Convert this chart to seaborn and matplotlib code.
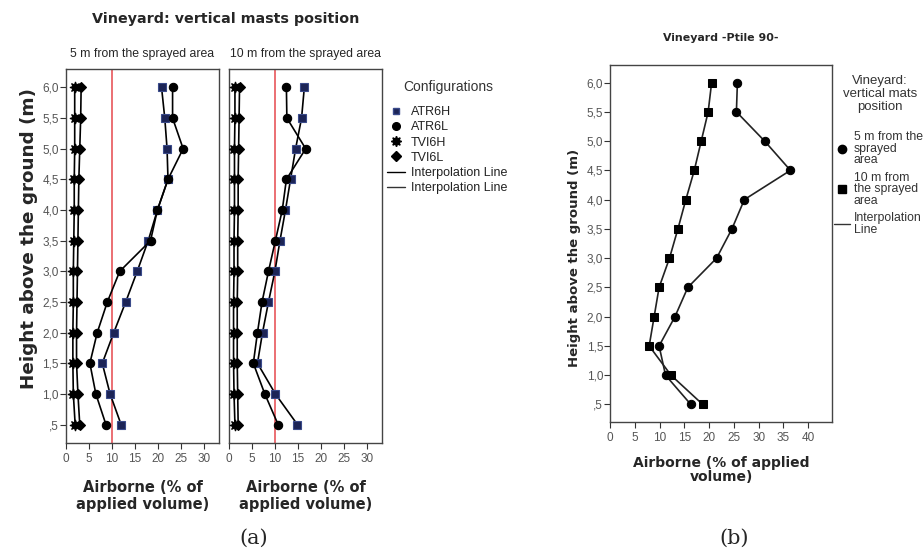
import matplotlib
matplotlib.use("Agg")
import matplotlib.pyplot as plt
from matplotlib.lines import Line2D
import numpy as np
import pandas as pd
import seaborn as sns

# heights of the sampling points (bottom to top)
heights = [0.5, 1.0, 1.5, 2.0, 2.5, 3.0, 3.5, 4.0, 4.5, 5.0, 5.5, 6.0]
height_labels = [",5", "1,0", "1,5", "2,0", "2,5", "3,0", "3,5", "4,0", "4,5", "5,0", "5,5", "6,0"]

# panel (a), 5 m from the sprayed area
atr6h_5 = [12.0, 9.6, 7.9, 10.4, 13.0, 15.5, 17.9, 19.9, 22.2, 22.0, 21.5, 20.8]
atr6l_5 = [8.7, 6.5, 5.2, 6.8, 9.0, 11.7, 18.4, 19.9, 22.2, 25.5, 23.2, 23.2]
tvi6h_5 = [2.0, 1.6, 1.5, 1.5, 1.6, 1.6, 1.7, 1.8, 1.8, 1.9, 1.9, 1.9]
tvi6l_5 = [3.0, 2.6, 2.3, 2.3, 2.4, 2.5, 2.6, 2.7, 2.8, 3.0, 3.2, 3.3]

# panel (a), 10 m from the sprayed area
atr6h_10 = [14.9, 10.1, 6.2, 7.3, 8.6, 10.0, 11.1, 12.3, 13.4, 14.5, 15.8, 16.4]
atr6l_10 = [10.7, 7.8, 5.3, 6.2, 7.2, 8.6, 10.1, 11.6, 12.5, 16.7, 12.6, 12.5]
tvi6h_10 = [1.3, 1.1, 1.0, 1.0, 1.0, 1.1, 1.1, 1.2, 1.2, 1.2, 1.3, 1.3]
tvi6l_10 = [2.0, 1.9, 1.8, 1.8, 1.8, 1.9, 1.9, 2.0, 2.0, 2.1, 2.2, 2.3]

# panel (b), percentile 90
p90_5 = [16.3, 11.2, 9.9, 13.1, 15.7, 21.5, 24.6, 27.1, 36.4, 31.2, 25.5, 25.7]
p90_10 = [18.7, 12.3, 7.9, 8.9, 9.9, 12.0, 13.7, 15.3, 17.0, 18.4, 19.8, 20.5]

threshold = 10

sns.set_theme(style="white")
plt.rcParams['font.family'] = ['DejaVu Sans']

fig = plt.figure(figsize=(9.24, 5.52), dpi=100)

thin = ['Liberation Sans', 'DejaVu Sans']
tick_col = '#555555'
text_col = '#333333'
navy = '#1c2456'
star = (8, 1, 0)

styles = {
    'ATR6H': dict(marker='s', mfc=navy, mec='#3a4a8a', ms=5.5),
    'ATR6L': dict(marker='o', mfc='black', mec='black', ms=6),
    'TVI6H': dict(marker=star, mfc='black', mec='black', ms=8),
    'TVI6L': dict(marker='D', mfc='black', mec='black', ms=5.5),
}


def style_axes(ax, xmax, xticks, show_y=True):
    ax.set_ylim(0.2, 6.3)
    ax.set_xlim(0, xmax)
    ax.set_xticks(xticks)
    ax.set_xticklabels([str(t) for t in xticks], color=tick_col, fontsize=8.5, family=thin)
    ax.set_yticks(heights)
    if show_y:
        ax.set_yticklabels(height_labels, color=tick_col, fontsize=8.5, family=thin)
        ax.tick_params(axis='y', direction='out', length=4, width=0.8, color='#333333', left=True, pad=1)
    else:
        ax.set_yticklabels([])
        ax.tick_params(axis='y', left=False)
    ax.tick_params(axis='x', direction='out', length=4, width=0.8, color='#333333', bottom=True, pad=3)
    for s in ax.spines.values():
        s.set_color('#444444')
        s.set_linewidth(1.0)
    ax.set_xlabel("Airborne (% of\napplied volume)", fontweight='bold', fontsize=10.5, linespacing=1.15)
    ax.xaxis.labelpad = 11
    ax.set_ylabel("")


def draw_panel(ax, series):
    ax.axvline(threshold, color='#e5484d', lw=1.1, zorder=1)
    for name, vals in series:
        st = styles[name]
        sns.lineplot(x=vals, y=heights, orient='y', sort=False, ax=ax, color='black', lw=1.2,
                     marker=st['marker'], markersize=st['ms'], markerfacecolor=st['mfc'],
                     markeredgecolor=st['mec'], markeredgewidth=0.8, zorder=3)


# panel (a)
ax1 = fig.add_axes([0.0714, 0.1975, 0.1656, 0.6775])
ax2 = fig.add_axes([0.2478, 0.1975, 0.1656, 0.6775])
draw_panel(ax1, [('TVI6H', tvi6h_5), ('TVI6L', tvi6l_5), ('ATR6H', atr6h_5), ('ATR6L', atr6l_5)])
draw_panel(ax2, [('TVI6H', tvi6h_10), ('TVI6L', tvi6l_10), ('ATR6H', atr6h_10), ('ATR6L', atr6l_10)])
style_axes(ax1, 33.3, [0, 5, 10, 15, 20, 25, 30])
style_axes(ax2, 33.3, [0, 5, 10, 15, 20, 25, 30], show_y=False)
ax1.set_ylabel("Height above the ground (m)", fontweight='bold', fontsize=13.2)
ax1.yaxis.set_label_coords(-0.18, 0.548)
ax1.set_title("5 m from the sprayed area", fontsize=8.8, family=thin, pad=9)
ax2.set_title("10 m from the sprayed area", fontsize=8.8, family=thin, pad=9)
fig.text(0.244, 0.965, "Vineyard: vertical masts position", fontweight='bold', fontsize=10.3,
         ha='center', va='center')

handles = []
for name in ['ATR6H', 'ATR6L', 'TVI6H', 'TVI6L']:
    st = styles[name]
    handles.append(Line2D([], [], ls='none', marker=st['marker'], markersize=st['ms'] - 0.5,
                          markerfacecolor=st['mfc'], markeredgecolor=st['mec']))
handles.append(Line2D([], [], color='black', lw=1))
handles.append(Line2D([], [], color='#333333', lw=1))
fig.text(0.485, 1 - 87 / 552, "Configurations", family=thin, fontsize=10, color=text_col,
         ha='center', va='center')
leg = fig.legend(handles, ['ATR6H', 'ATR6L', 'TVI6H', 'TVI6L', 'Interpolation Line', 'Interpolation Line'],
                 loc='upper left', bbox_to_anchor=(0.419, 1 - 106 / 552),
                 frameon=False, prop={'family': thin, 'size': 9},
                 handlelength=1.45, handletextpad=0.45, labelspacing=0.26, borderaxespad=0, borderpad=0)
for t in leg.get_texts():
    t.set_color('#222222')

# panel (b)
ax3 = fig.add_axes([0.6602, 0.2355, 0.2403, 0.6467])
sns.lineplot(x=p90_5, y=heights, orient='y', sort=False, ax=ax3, color='#222222', lw=1.2,
             marker='o', markersize=6, markerfacecolor='black', markeredgecolor='black')
sns.lineplot(x=p90_10, y=heights, orient='y', sort=False, ax=ax3, color='#222222', lw=1.2,
             marker='s', markersize=6, markerfacecolor='black', markeredgecolor='black')
style_axes(ax3, 44.8, [0, 5, 10, 15, 20, 25, 30, 35, 40])
ax3.set_xlabel("Airborne (% of applied\nvolume)", fontweight='bold', fontsize=10, linespacing=0.95)
ax3.xaxis.labelpad = 9
ax3.set_ylabel("Height above the ground (m)", fontweight='bold', fontsize=9.5)
ax3.yaxis.set_label_coords(-0.13, 0.46)
ax3.set_title("Vineyard -Ptile 90-", fontweight='bold', fontsize=7.9, pad=17)

hb = [Line2D([], [], ls='none', marker='o', markersize=6, color='black'),
      Line2D([], [], ls='none', marker='s', markersize=6, color='black'),
      Line2D([], [], color='#333333', lw=1)]
fig.text(0.952, 1 - 94 / 552, "Vineyard:\nvertical mats\nposition", family=thin, fontsize=9.5,
         color=text_col, ha='center', va='center', linespacing=1.1)
legb = fig.legend(hb, ["5 m from the\nsprayed\narea", "10 m from\nthe sprayed\narea", "Interpolation\nLine"],
                  loc='upper left', bbox_to_anchor=(0.903, 1 - 131 / 552),
                  frameon=False, prop={'family': thin, 'size': 8.8}, handlelength=1.3,
                  handletextpad=0.3, labelspacing=0.45, borderaxespad=0, borderpad=0)
for t in legb.get_texts():
    t.set_linespacing(0.95)
    t.set_color(text_col)

fig.text(0.275, 0.025, "(a)", fontsize=15, fontfamily='DejaVu Serif', ha='center', va='center')
fig.text(0.795, 0.025, "(b)", fontsize=15, fontfamily='DejaVu Serif', ha='center', va='center')

fig.savefig("out.png", dpi=100)
